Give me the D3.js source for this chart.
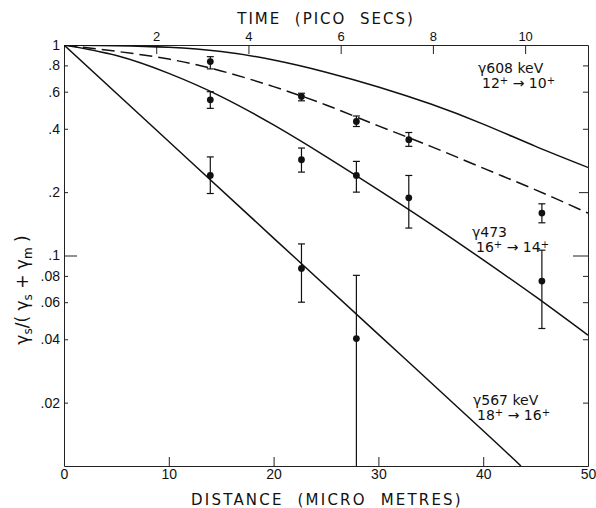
<!DOCTYPE html>
<html>
<head>
<meta charset="utf-8">
<script src="https://cdn.jsdelivr.net/npm/d3@7"></script>
<style>
  body { margin: 0; background: #fff; }
  svg { display: block; font-family: "DejaVu Sans", "Liberation Sans", sans-serif; }
  .axis text { font-size: 14px; fill: #111; }
  .axis path, .axis line { stroke: #222; stroke-width: 1; }
  .title { font-size: 15px; fill: #111; letter-spacing: 2px; white-space: pre; }
  .lbl { font-size: 14px; fill: #111; }
</style>
</head>
<body>
<div id="chart"></div>
<script>
/* Recoil-distance decay curves: gamma_s/(gamma_s+gamma_m) vs target-stopper distance (log scale). */

// distances where curves were sampled (micro metres)
const curveDist = [0, 5, 10, 15, 20, 25, 30, 35, 40, 45, 50];
// upper solid curve (calculated, 608 keV)
const curve608calc = [1, 0.993, 0.975, 0.931, 0.849, 0.743, 0.632, 0.524, 0.421, 0.330, 0.262];
// dashed curve (fit, 608 keV)
const curve608fit = [1, 0.933, 0.857, 0.753, 0.634, 0.519, 0.413, 0.33, 0.26, 0.205, 0.159];
// middle solid curve (473 keV)
const curve473 = [1, 0.891, 0.733, 0.569, 0.417, 0.295, 0.205, 0.141, 0.0953, 0.0637, 0.0418];
// lower straight line (567 keV), ends where it leaves the plot
const dist567 = [0, 10, 20, 30, 40, 43.6];
const curve567 = [1, 0.348, 0.121, 0.0422, 0.0147, 0.01];

// measured points: distance, value, low, high
const pts608 = [
  [13.96, 0.834, 0.77, 0.88],
  [22.66, 0.569, 0.543, 0.59],
  [27.9, 0.433, 0.41, 0.46],
  [32.9, 0.355, 0.33, 0.384],
  [45.6, 0.159, 0.143, 0.176]
];
const pts473 = [
  [13.96, 0.549, 0.50, 0.60],
  [22.66, 0.285, 0.249, 0.324],
  [27.9, 0.24, 0.20, 0.28],
  [32.9, 0.188, 0.135, 0.24],
  [45.6, 0.0756, 0.045, 0.106]
];
const pts567 = [
  [13.96, 0.24, 0.197, 0.294],
  [22.66, 0.0868, 0.06, 0.1135],
  [27.9, 0.0403, 0.01, 0.0805]
];

const yTicks = [1, 0.8, 0.6, 0.4, 0.2, 0.1, 0.08, 0.06, 0.04, 0.02];
const yTickText = ["1", ".8", ".6", ".4", ".2", ".1", ".08", ".06", ".04", ".02"];
const xTicks = [0, 10, 20, 30, 40, 50];
const timeTicks = [2, 4, 6, 8, 10];
const recoilSpeed = 4.40; // micro metres per pico second

const W = 596, H = 508;
const M = {left: 64, right: 8, top: 45, bottom: 42};

const svg = d3.select("#chart").append("svg").attr("width", W).attr("height", H);

const x = d3.scaleLinear().domain([0, 50]).range([M.left, W - M.right]);
const y = d3.scaleLog().domain([0.01, 1]).range([H - M.bottom, M.top]);
const t = d3.scaleLinear().domain([0, 50 / recoilSpeed]).range([M.left, W - M.right]);

// axes (ticks point inward)
svg.append("g").attr("class", "axis").attr("transform", `translate(0,${H - M.bottom})`)
  .call(d3.axisBottom(x).tickValues(xTicks).tickSizeInner(-9).tickSizeOuter(0).tickPadding(3));

svg.append("g").attr("class", "axis").attr("transform", `translate(0,${M.top})`)
  .call(d3.axisTop(t).tickValues(timeTicks).tickSizeInner(-9).tickSizeOuter(0).tickPadding(4))
  .selectAll("text").style("font-size", "13px");

const yl = svg.append("g").attr("class", "axis").attr("transform", `translate(${M.left},0)`)
  .call(d3.axisLeft(y).tickValues(yTicks).tickSizeInner(-4).tickSizeOuter(0).tickPadding(4)
    .tickFormat((d, i) => yTickText[i]));
yl.selectAll(".tick line").attr("x2", d => d === 0.1 ? 13 : (d === 1 ? 0 : 4));

const yr = svg.append("g").attr("class", "axis").attr("transform", `translate(${W - M.right},0)`)
  .call(d3.axisRight(y).tickValues(yTicks).tickSizeInner(-5).tickSizeOuter(0).tickFormat(""));
yr.selectAll(".tick line").attr("x2", d => d === 0.1 ? -15 : (d === 0.2 ? -9 : (d === 1 ? 0 : -5)));

// axis titles
svg.append("text").attr("class", "title").attr("x", 326).attr("y", 24)
  .attr("text-anchor", "middle").text("TIME  (PICO  SECS)");
svg.append("text").attr("class", "title").attr("x", 327).attr("y", 505)
  .attr("text-anchor", "middle").style("font-size", "15px").style("letter-spacing", "2.2px")
  .text("DISTANCE  (MICRO  METRES)");

const yt = svg.append("text").attr("transform", "translate(28,290) rotate(-90)")
  .attr("text-anchor", "middle").style("font-size", "17px").attr("fill", "#111");
yt.append("tspan").text("γ");
yt.append("tspan").attr("dy", 4).style("font-size", "12px").text("s");
yt.append("tspan").attr("dy", -4).text("/( γ");
yt.append("tspan").attr("dy", 4).style("font-size", "12px").text("s");
yt.append("tspan").attr("dy", -4).text(" + γ");
yt.append("tspan").attr("dy", 4).style("font-size", "12px").text("m");
yt.append("tspan").attr("dy", -4).text(" )");

// curves
svg.append("clipPath").attr("id", "plot").append("rect")
  .attr("x", M.left).attr("y", M.top)
  .attr("width", W - M.left - M.right).attr("height", H - M.top - M.bottom);

const line = d3.line().x(d => x(d[0])).y(d => y(d[1])).curve(d3.curveNatural);
const curves = [
  {d: curveDist, v: curve608calc, dash: null},
  {d: curveDist, v: curve608fit, dash: "13,6"},
  {d: curveDist, v: curve473, dash: null},
  {d: dist567, v: curve567, dash: null}
];
const cg = svg.append("g").attr("clip-path", "url(#plot)");
curves.forEach(c => {
  cg.append("path").datum(c.d.map((d, i) => [d, c.v[i]]))
    .attr("d", line).attr("fill", "none").attr("stroke", "#111")
    .attr("stroke-width", 1.5).attr("stroke-dasharray", c.dash);
});

// data points with error bars
const allPts = pts608.concat(pts473, pts567);
const pg = svg.append("g").attr("clip-path", "url(#plot)");
allPts.forEach(p => {
  const px = x(p[0]);
  pg.append("line").attr("x1", px).attr("x2", px).attr("y1", y(p[2])).attr("y2", y(p[3]))
    .attr("stroke", "#111").attr("stroke-width", 1.2);
  [p[2], p[3]].forEach(v => {
    if (v <= 0.01) return;
    pg.append("line").attr("x1", px - 3.5).attr("x2", px + 3.5).attr("y1", y(v)).attr("y2", y(v))
      .attr("stroke", "#111").attr("stroke-width", 1.2);
  });
  pg.append("circle").attr("cx", px).attr("cy", y(p[1])).attr("r", 3.4).attr("fill", "#111");
});

// curve labels: one text element, two lines
function label(x0, y0, head, lo, hi) {
  const s = svg.append("text").attr("class", "lbl").attr("x", x0).attr("y", y0);
  s.append("tspan").text(head);
  s.append("tspan").attr("x", x0 + 4).attr("dy", 15).text(lo);
  s.append("tspan").attr("dy", -4).style("font-size", "10px").text("+");
  s.append("tspan").attr("dy", 4).text(" → " + hi);
  s.append("tspan").attr("dy", -4).style("font-size", "10px").text("+");
}
label(478, 73, "γ608 keV", "12", "10");
label(472, 237, "γ473", "16", "14");
label(473, 405, "γ567  keV", "18", "16");
</script>
</body>
</html>
